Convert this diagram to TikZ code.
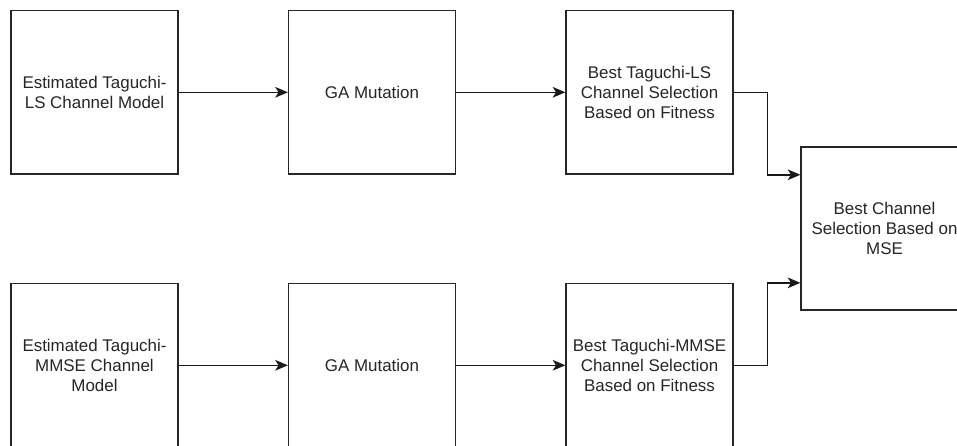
\documentclass[tikz,border=0pt]{standalone}
\usepackage{fontspec}
\setmainfont{Liberation Sans}
\usetikzlibrary{arrows.meta, positioning, calc}

\begin{document}
\begin{tikzpicture}[x=0.75pt, y=-0.75pt, >={Stealth[length=9.5pt, width=8pt, inset=2.5pt]},
    block/.style={draw=black!85, line width=1.2pt, fill=white, minimum width=125pt,
                  minimum height=122.5pt, align=center, text=black!85,
                  font=\fontsize{12.7pt}{15pt}\selectfont},
    link/.style={->, draw=black!90, line width=1.2pt}]
  \useasboundingbox[fill=white] (0,0) rectangle (957,446);

  % Taguchi-LS branch
  \node[block] (estLS) at (94.5, 92.3) {Estimated Taguchi-\\LS Channel Model};
  \node[block] (gaLS)  at (372, 92.3)  {GA Mutation};
  \node[block] (selLS) at (649.5, 92.3) {Best Taguchi-LS\\Channel Selection\\Based on Fitness};

  % Taguchi-MMSE branch
  \node[block] (estMMSE) at (94.5, 365.3) {Estimated Taguchi-\\MMSE Channel\\Model};
  \node[block] (gaMMSE)  at (372, 365.3)  {GA Mutation};
  \node[block] (selMMSE) at (649.5, 365.3) {Best Taguchi-MMSE\\Channel Selection\\Based on Fitness};

  % Final choice
  \node[block] (best) at (884.5, 228.5) {Best Channel\\Selection Based on\\MSE};

  \draw[link] (estLS) -- (gaLS);
  \draw[link] (gaLS) -- (selLS);
  \draw[link] (estMMSE) -- (gaMMSE);
  \draw[link] (gaMMSE) -- (selMMSE);

  \draw[link] (selLS.east) -- ++(34,0) |- (best.west |- selLS.south);
  \draw[link] (selMMSE.east) -- ++(34,0) |- (best.west |- selMMSE.north);
\end{tikzpicture}
\end{document}
